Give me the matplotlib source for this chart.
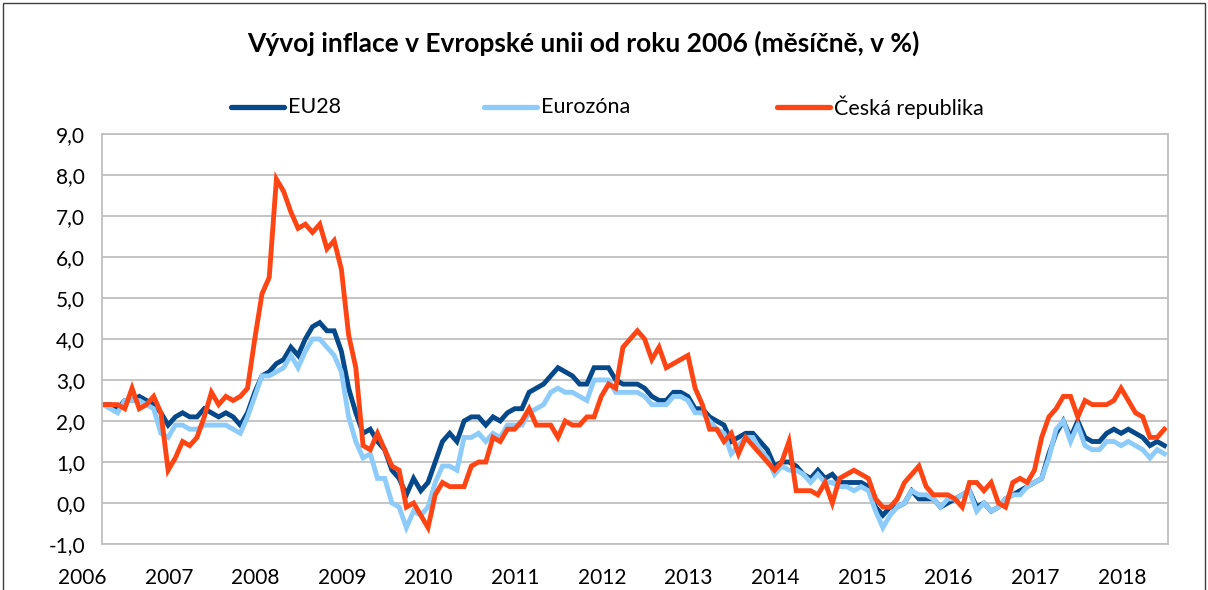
import matplotlib
matplotlib.use("Agg")
import matplotlib.pyplot as plt
import numpy as np

# monthly HICP, Jan 2006 .. Apr 2018
eu28 = [2.4, 2.4, 2.3, 2.5, 2.5, 2.6, 2.5, 2.4, 2.2, 1.9, 2.1, 2.2,
        2.1, 2.1, 2.3, 2.2, 2.1, 2.2, 2.1, 1.9, 2.2, 2.7, 3.1, 3.2,
        3.4, 3.5, 3.8, 3.6, 4.0, 4.3, 4.4, 4.2, 4.2, 3.7, 2.8, 2.2,
        1.7, 1.8, 1.5, 1.3, 0.8, 0.6, 0.2, 0.6, 0.3, 0.5, 1.0, 1.5,
        1.7, 1.5, 2.0, 2.1, 2.1, 1.9, 2.1, 2.0, 2.2, 2.3, 2.3, 2.7,
        2.8, 2.9, 3.1, 3.3, 3.2, 3.1, 2.9, 2.9, 3.3, 3.3, 3.3, 3.0,
        2.9, 2.9, 2.9, 2.8, 2.6, 2.5, 2.5, 2.7, 2.7, 2.6, 2.3, 2.3,
        2.1, 2.0, 1.9, 1.5, 1.6, 1.7, 1.7, 1.5, 1.3, 0.9, 1.0, 1.0,
        0.9, 0.7, 0.6, 0.8, 0.6, 0.7, 0.5, 0.5, 0.5, 0.5, 0.4, -0.1,
        -0.3, -0.1, -0.1, 0.0, 0.3, 0.1, 0.1, 0.1, -0.1, 0.0, 0.1, 0.2,
        0.3, -0.1, 0.0, -0.2, -0.1, 0.1, 0.2, 0.3, 0.4, 0.5, 0.6, 1.2,
        1.7, 2.0, 1.6, 2.0, 1.6, 1.5, 1.5, 1.7, 1.8, 1.7, 1.8, 1.7,
        1.6, 1.4, 1.5, 1.4]

eurozona = [2.4, 2.3, 2.2, 2.5, 2.5, 2.5, 2.4, 2.3, 1.7, 1.6, 1.9, 1.9,
            1.8, 1.8, 1.9, 1.9, 1.9, 1.9, 1.8, 1.7, 2.1, 2.6, 3.1, 3.1,
            3.2, 3.3, 3.6, 3.3, 3.7, 4.0, 4.0, 3.8, 3.6, 3.2, 2.1, 1.5,
            1.1, 1.2, 0.6, 0.6, 0.0, -0.1, -0.6, -0.2, -0.3, -0.1, 0.5, 0.9,
            0.9, 0.8, 1.6, 1.6, 1.7, 1.5, 1.7, 1.6, 1.9, 1.9, 1.9, 2.2,
            2.3, 2.4, 2.7, 2.8, 2.7, 2.7, 2.6, 2.5, 3.0, 3.0, 3.0, 2.7,
            2.7, 2.7, 2.7, 2.6, 2.4, 2.4, 2.4, 2.6, 2.6, 2.5, 2.2, 2.2,
            2.0, 1.8, 1.7, 1.2, 1.4, 1.6, 1.6, 1.3, 1.1, 0.7, 0.9, 0.8,
            0.8, 0.7, 0.5, 0.7, 0.5, 0.5, 0.4, 0.4, 0.3, 0.4, 0.3, -0.2,
            -0.6, -0.3, -0.1, 0.0, 0.3, 0.2, 0.2, 0.1, -0.1, 0.1, 0.1, 0.2,
            0.3, -0.2, 0.0, -0.2, -0.1, 0.1, 0.2, 0.2, 0.4, 0.5, 0.6, 1.1,
            1.8, 2.0, 1.5, 1.9, 1.4, 1.3, 1.3, 1.5, 1.5, 1.4, 1.5, 1.4,
            1.3, 1.1, 1.3, 1.2]

cesko = [2.4, 2.4, 2.4, 2.3, 2.8, 2.3, 2.4, 2.6, 2.2, 0.8, 1.1, 1.5,
         1.4, 1.6, 2.1, 2.7, 2.4, 2.6, 2.5, 2.6, 2.8, 4.0, 5.1, 5.5,
         7.9, 7.6, 7.1, 6.7, 6.8, 6.6, 6.8, 6.2, 6.4, 5.7, 4.1, 3.3,
         1.4, 1.3, 1.7, 1.3, 0.9, 0.8, -0.1, 0.0, -0.3, -0.6, 0.2, 0.5,
         0.4, 0.4, 0.4, 0.9, 1.0, 1.0, 1.6, 1.5, 1.8, 1.8, 2.0, 2.3,
         1.9, 1.9, 1.9, 1.6, 2.0, 1.9, 1.9, 2.1, 2.1, 2.6, 2.9, 2.8,
         3.8, 4.0, 4.2, 4.0, 3.5, 3.8, 3.3, 3.4, 3.5, 3.6, 2.8, 2.4,
         1.8, 1.8, 1.5, 1.7, 1.2, 1.6, 1.4, 1.2, 1.0, 0.8, 1.0, 1.5,
         0.3, 0.3, 0.3, 0.2, 0.5, 0.0, 0.6, 0.7, 0.8, 0.7, 0.6, 0.1,
         -0.1, -0.1, 0.1, 0.5, 0.7, 0.9, 0.4, 0.2, 0.2, 0.2, 0.1, -0.1,
         0.5, 0.5, 0.3, 0.5, 0.0, -0.1, 0.5, 0.6, 0.5, 0.8, 1.6, 2.1,
         2.3, 2.6, 2.6, 2.1, 2.5, 2.4, 2.4, 2.4, 2.5, 2.8, 2.5, 2.2,
         2.1, 1.6, 1.6, 1.8]

years = list(range(2006, 2019))
yticks = np.arange(-1, 10, 1)

c_eu = "#05498A"
c_ez = "#8CCBFA"
c_cz = "#FF4513"
grid_c = "#BFBFBF"

plt.rcParams["font.family"] = ["Lato", "DejaVu Sans"]

fig = plt.figure(figsize=(12.08, 5.90), dpi=100)
ax = fig.add_axes([101.7 / 1208, 1 - 544 / 590, (1168 - 101.7) / 1208, (544 - 134) / 590])

m = np.arange(len(eu28))
ax.plot(m, eu28, color=c_eu, lw=3.5, solid_joinstyle="miter", label="EU28")
ax.plot(m, eurozona, color=c_ez, lw=3.5, solid_joinstyle="miter", label="Eurozóna")
ax.plot(m, cesko, color=c_cz, lw=3.5, solid_joinstyle="miter", label="Česká republika")

ax.set_xlim(-0.2, 147.5)
ax.set_ylim(-1, 9)
ax.set_yticks(yticks)
ax.set_yticklabels([f"{v:.1f}".replace(".", ",") for v in yticks], fontsize=15)
ax.set_xticks([])
ax.tick_params(axis="y", length=0, pad=12)
ax.yaxis.grid(True, color=grid_c, lw=1.3)
ax.set_axisbelow(True)
for s in ax.spines.values():
    s.set_color(grid_c)
    s.set_linewidth(1.3)

# year labels sit a bit left of January in the original
for i, yr in enumerate(years):
    ax.text(12 * i - 2.9, -0.083, str(yr), transform=ax.get_xaxis_transform(),
            ha="center", va="center", fontsize=15, clip_on=False)

fig.text(583 / 1208, 1 - 43 / 590, "Vývoj inflace v Evropské unii od roku 2006 (měsíčně, v %)",
         ha="center", va="center", fontsize=19, fontweight="bold")

# legend entries placed by hand like the Excel legend
leg = [("EU28", c_eu, 231), ("Eurozóna", c_ez, 484), ("Česká republika", c_cz, 777)]
for name, col, x0 in leg:
    fig.add_artist(plt.Line2D([x0 / 1208, (x0 + 53) / 1208], [1 - 107 / 590] * 2,
                              color=col, lw=3.8, solid_capstyle="round"))
    fig.text((x0 + 57) / 1208, 1 - 107 / 590, name, ha="left", va="center", fontsize=15.5)

# thin frame round the chart area
fig.add_artist(plt.Rectangle((2.5 / 1208, -0.05), 1202 / 1208, 1.05 - 2.5 / 590,
                             transform=fig.transFigure, fill=False, edgecolor="#404040", lw=1))

fig.savefig("out.png", dpi=100)
